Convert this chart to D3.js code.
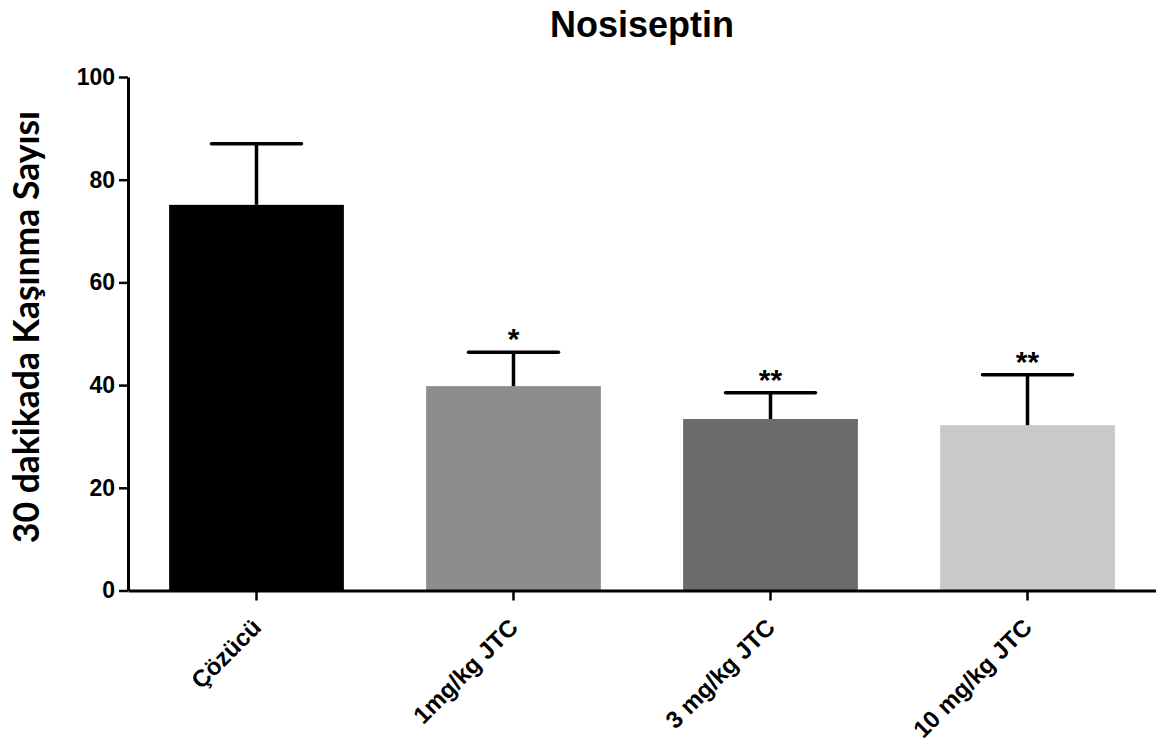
<!DOCTYPE html>
<html><head><meta charset="utf-8">
<script src="https://cdn.jsdelivr.net/npm/d3@7"></script>
<style>body{margin:0;background:#fff}svg{display:block}</style>
</head><body>
<svg id="c" width="1156" height="751"></svg>
<script>
const categories = ["Çözücü", "1mg/kg JTC", "3 mg/kg JTC", "10 mg/kg JTC"];
const means = [75.1, 39.8, 33.4, 32.2];
const errTop = [87.0, 46.4, 38.5, 42.0];
const signif = ["", "*", "**", "**"];
const colors = ["#000000", "#8d8d90", "#6b6b6b", "#c9c9c9"];
const yTicks = [0, 20, 40, 60, 80, 100];

const svg = d3.select("#c");
const x = d3.scaleBand().domain(categories).range([128, 1156]).paddingInner(0.32).paddingOuter(0.16);
const y = d3.scaleLinear().domain([0, 100]).range([590.5, 77]);

// bars
svg.selectAll("rect.bar").data(categories).join("rect")
  .attr("x", d => x(d)).attr("width", x.bandwidth())
  .attr("y", (d,i) => y(means[i])).attr("height", (d,i) => y(0) - y(means[i]))
  .attr("fill", (d,i) => colors[i]);

// error bars
const capW = 90;
categories.forEach((d,i) => {
  const cx = x(d) + x.bandwidth()/2;
  svg.append("line").attr("x1", cx).attr("x2", cx).attr("y1", y(means[i])).attr("y2", y(errTop[i]))
    .attr("stroke", "#000").attr("stroke-width", 3.5);
  svg.append("line").attr("x1", cx - capW/2).attr("x2", cx + capW/2).attr("y1", y(errTop[i])).attr("y2", y(errTop[i]))
    .attr("stroke", "#000").attr("stroke-width", 3.5).attr("stroke-linecap", "round");
  if (signif[i]) {
    svg.append("text").attr("x", cx).attr("y", y(errTop[i]) - 3)
      .attr("text-anchor", "middle").attr("font-family", "Liberation Sans, Arial, sans-serif")
      .attr("font-weight", "bold").attr("font-size", 30).text(signif[i]);
  }
});

// y axis
const yAxis = svg.append("g").attr("transform", "translate(128,0)")
  .call(d3.axisLeft(y).tickValues(yTicks).tickSize(9).tickPadding(4).tickSizeOuter(0));
yAxis.select(".domain").attr("stroke", "#000").attr("stroke-width", 3);
yAxis.selectAll(".tick line").attr("stroke", "#000").attr("stroke-width", 2.5);
yAxis.selectAll(".tick text").attr("font-family", "Liberation Sans, Arial, sans-serif")
  .attr("font-weight", "bold").attr("font-size", 23).attr("fill", "#000");

// x axis
const xAxis = svg.append("g").attr("transform", "translate(0,590.5)")
  .call(d3.axisBottom(x).tickSize(10).tickSizeOuter(0).tickFormat(""));
xAxis.select(".domain").attr("stroke", "#000").attr("stroke-width", 3);
xAxis.selectAll(".tick line").attr("stroke", "#000").attr("stroke-width", 2.5);

svg.selectAll("text.xl").data(categories).join("text").attr("class", "xl")
  .attr("transform", d => `translate(${x(d) + x.bandwidth()/2 + 6},${629}) rotate(-45)`)
  .attr("text-anchor", "end")
  .attr("font-family", "Liberation Sans, Arial, sans-serif").attr("font-weight", "bold")
  .attr("font-size", 24).attr("fill", "#000").text(d => d);

// title
svg.append("text").attr("x", 642).attr("y", 37).attr("text-anchor", "middle")
  .attr("font-family", "Liberation Sans, Arial, sans-serif").attr("font-weight", "bold")
  .attr("font-size", 36).text("Nosiseptin");

// y label
svg.append("text").attr("transform", "translate(39,327) rotate(-90)").attr("text-anchor", "middle")
  .attr("font-family", "Lato, sans-serif").attr("font-weight", "bold")
  .attr("font-size", 35.5).text("30 dakikada Kaşınma Sayısı");
</script>
</body></html>
